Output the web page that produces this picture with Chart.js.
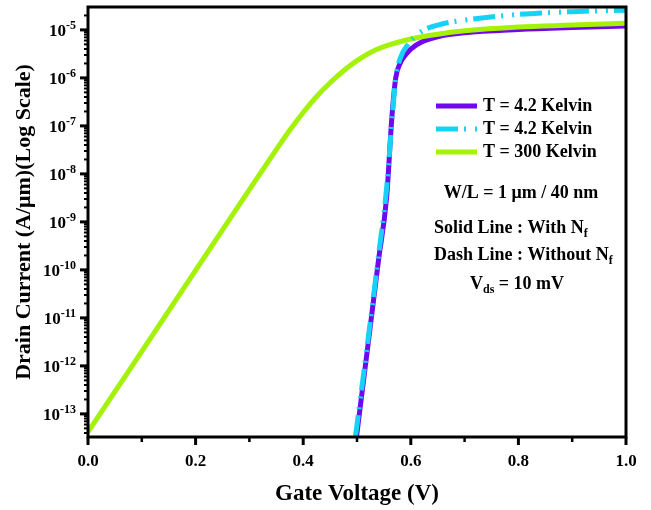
<!DOCTYPE html>
<html>
<head>
<meta charset="utf-8">
<script src="https://cdn.jsdelivr.net/npm/chart.js@4.4.1/dist/chart.umd.min.js"></script>
<style>
  html, body { margin: 0; padding: 0; background: #fff; }
</style>
</head>
<body>
<canvas id="my-chart" width="651" height="510"></canvas>
<script>
// gate voltage (V) and drain current (A/um)
const vgWithNf = [0.499, 0.52, 0.54, 0.555, 0.565, 0.572, 0.58, 0.59, 0.60, 0.62, 0.65, 0.70, 0.80, 0.90, 1.0];
const idWithNf = [3.3e-14, 2.5e-12, 1.6e-10, 3.2e-9, 1.6e-7, 1.0e-6, 2.0e-6, 3.0e-6, 4.0e-6, 5.6e-6, 7.2e-6, 8.7e-6, 1.02e-5, 1.12e-5, 1.2e-5];

const vgWithoutNf = [0.497, 0.52, 0.54, 0.555, 0.565, 0.572, 0.58, 0.595, 0.62, 0.65, 0.70, 0.80, 0.90, 1.0];
const idWithoutNf = [3.3e-14, 3.2e-12, 2.0e-10, 5.0e-9, 1.3e-7, 1.0e-6, 2.5e-6, 5.0e-6, 9.3e-6, 1.26e-5, 1.6e-5, 2.1e-5, 2.4e-5, 2.57e-5];

const vgWarm = [0, 0.05, 0.1, 0.15, 0.2, 0.25, 0.3, 0.35, 0.375, 0.4, 0.425, 0.45, 0.475, 0.5, 0.525, 0.55, 0.6, 0.65, 0.7, 0.8, 0.9, 1.0];
const idWarm = [4.2e-14, 2.9e-13, 2.0e-12, 1.4e-11, 9.8e-11, 6.8e-10, 4.7e-9, 3.2e-8, 8.1e-8, 1.9e-7, 4.1e-7, 7.9e-7, 1.41e-6, 2.29e-6, 3.39e-6, 4.47e-6, 6.46e-6, 8.13e-6, 9.55e-6, 1.15e-5, 1.26e-5, 1.38e-5];

const seriesLabels = ['T = 4.2 Kelvin', 'T = 4.2 Kelvin', 'T = 300 Kelvin'];
const seriesColors = ['#7106ef', '#16d3f5', '#a3f208'];

const xMajorTicks = [0, 0.2, 0.4, 0.6, 0.8, 1.0];
const xMinorTicks = [0.1, 0.3, 0.5, 0.7, 0.9];
const yDecades = [-13, -12, -11, -10, -9, -8, -7, -6, -5];

const serif = "'Liberation Serif', 'Times New Roman', serif";

function toPoints(xs, ys) {
  return xs.map((v, i) => ({ x: v, y: ys[i] }));
}

// text with an optional subscript run: parts = [[text, kind]]
function drawRich(ctx, parts, x, y, align) {
  const size = { n: 18, sub: 12 };
  let total = 0;
  parts.forEach(([t, k]) => {
    ctx.font = `bold ${k === 'sub' ? size.sub : size.n}px ${serif}`;
    total += ctx.measureText(t).width;
  });
  let cx = align === 'center' ? x - total / 2 : x;
  ctx.textAlign = 'left';
  ctx.textBaseline = 'middle';
  parts.forEach(([t, k]) => {
    ctx.font = `bold ${k === 'sub' ? size.sub : size.n}px ${serif}`;
    ctx.fillText(t, cx, k === 'sub' ? y + 6 : y);
    cx += ctx.measureText(t).width;
  });
}

const decor = {
  id: 'decor',
  afterDatasetsDraw(chart) {
    const { ctx, chartArea: a, scales: { x, y } } = chart;
    ctx.save();
    ctx.strokeStyle = '#000';
    ctx.fillStyle = '#000';

    // x ticks, outward
    xMajorTicks.forEach((v) => {
      const px = x.getPixelForValue(v);
      ctx.lineWidth = 3;
      ctx.beginPath(); ctx.moveTo(px, a.bottom); ctx.lineTo(px, a.bottom + 8); ctx.stroke();
    });
    xMinorTicks.forEach((v) => {
      const px = x.getPixelForValue(v);
      ctx.lineWidth = 2.5;
      ctx.beginPath(); ctx.moveTo(px, a.bottom); ctx.lineTo(px, a.bottom + 5); ctx.stroke();
    });

    // y ticks, outward, with decade labels
    for (let d = -14; d <= -5; d++) {
      for (let m = 1; m <= 9; m++) {
        const v = m * Math.pow(10, d);
        if (v < y.min || v > y.max) continue;
        const py = y.getPixelForValue(v);
        ctx.lineWidth = m === 1 ? 3 : 2;
        ctx.beginPath(); ctx.moveTo(a.left, py); ctx.lineTo(a.left - (m === 1 ? 8 : 4), py); ctx.stroke();
      }
    }
    yDecades.forEach((d) => {
      const py = y.getPixelForValue(Math.pow(10, d));
      const exp = String(d);
      ctx.textBaseline = 'middle';
      ctx.textAlign = 'right';
      ctx.font = `bold 12px ${serif}`;
      const ew = ctx.measureText(exp).width;
      ctx.fillText(exp, 76, py - 4);
      ctx.font = `bold 17px ${serif}`;
      ctx.fillText('10', 76 - ew, py + 2);
    });

    // frame
    ctx.lineWidth = 3;
    ctx.strokeRect(a.left, a.top, a.right - a.left, a.bottom - a.top);

    // legend inside the plot
    const lx = a.left + 348;
    chart.data.datasets.forEach((ds, i) => {
      const ly = a.top + 99 + i * 23;
      ctx.save();
      ctx.strokeStyle = ds.borderColor;
      ctx.lineWidth = 5;
      ctx.setLineDash(ds.borderDash || []);
      ctx.beginPath(); ctx.moveTo(lx, ly); ctx.lineTo(lx + 41, ly); ctx.stroke();
      ctx.restore();
      drawRich(ctx, [[ds.label, 'n']], lx + 47, ly, 'left');
    });

    // notes
    drawRich(ctx, [['W/L = 1 \u03bcm / 40 nm', 'n']], a.left + 433, a.top + 186, 'center');
    drawRich(ctx, [['Solid Line : With N', 'n'], ['f', 'sub']], a.left + 346, a.top + 221, 'left');
    drawRich(ctx, [['Dash Line : Without N', 'n'], ['f', 'sub']], a.left + 346, a.top + 248, 'left');
    drawRich(ctx, [['V', 'n'], ['ds', 'sub'], [' = 10 mV', 'n']], a.left + 382, a.top + 277, 'left');
    ctx.restore();
  },
};

const ctx = document.getElementById('my-chart').getContext('2d');

new Chart(ctx, {
  type: 'line',
  data: {
    datasets: [
      {
        label: seriesLabels[0],
        data: toPoints(vgWithNf, idWithNf),
        borderColor: seriesColors[0],
        order: 3,
      },
      {
        label: seriesLabels[1],
        data: toPoints(vgWithoutNf, idWithoutNf),
        borderColor: seriesColors[1],
        borderDash: [22, 6, 2, 9, 2, 6],
        order: 1,
      },
      {
        label: seriesLabels[2],
        data: toPoints(vgWarm, idWarm),
        borderColor: seriesColors[2],
        order: 2,
      },
    ],
  },
  options: {
    responsive: false,
    animation: false,
    devicePixelRatio: 1,
    layout: { padding: { top: 7, right: 25, left: 0, bottom: 0 } },
    elements: {
      line: { borderWidth: 5, fill: false, cubicInterpolationMode: 'monotone', borderCapStyle: 'butt', borderJoinStyle: 'round' },
      point: { radius: 0 },
    },
    plugins: { legend: { display: false }, tooltip: { enabled: false } },
    scales: {
      x: {
        type: 'linear',
        min: 0,
        max: 1,
        grid: { display: false, drawTicks: false },
        border: { display: false },
        ticks: {
          stepSize: 0.2,
          padding: 14,
          color: '#000',
          font: { family: serif, size: 17, weight: 'bold' },
          callback: (v) => v.toFixed(1),
        },
        title: {
          display: true,
          text: 'Gate Voltage (V)',
          color: '#000',
          font: { family: serif, size: 23, weight: 'bold' },
          padding: { top: 0, bottom: 2 },
        },
        afterFit: (s) => { s.height = 73; },
      },
      y: {
        type: 'logarithmic',
        min: 3.3e-14,
        max: 3.0e-5,
        grid: { display: false, drawTicks: false },
        border: { display: false },
        ticks: { display: false },
        title: {
          display: true,
          text: 'Drain Current (A/\u03bcm)(Log Scale)',
          color: '#000',
          font: { family: serif, size: 22, weight: 'bold' },
          padding: { top: 11, bottom: 0 },
        },
        afterFit: (s) => { s.width = 88; },
      },
    },
  },
  plugins: [decor],
});
</script>
</body>
</html>
